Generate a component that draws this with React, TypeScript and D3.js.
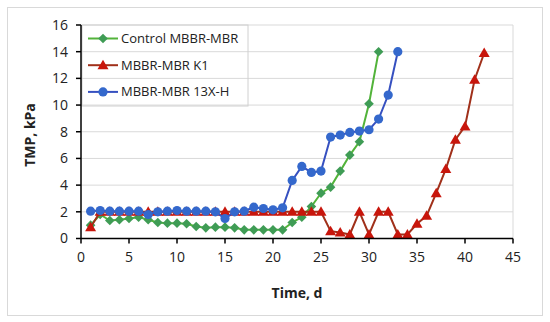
import * as d3 from 'd3'

// Control MBBR-MBR
const controlDays = [1, 2, 3, 4, 5, 6, 7, 8, 9, 10, 11, 12, 13, 14, 15, 16, 17, 18, 19, 20, 21, 22, 23, 24, 25, 26, 27, 28, 29, 30, 31]
const controlTmp = [1.0, 1.8, 1.35, 1.4, 1.5, 1.6, 1.4, 1.2, 1.15, 1.15, 1.1, 0.9, 0.8, 0.85, 0.85, 0.8, 0.65, 0.65, 0.65, 0.65, 0.65, 1.2, 1.6, 2.4, 3.4, 3.85, 5.05, 6.25, 7.25, 10.1, 14.0]

// MBBR-MBR K1
const k1Days = [1, 2, 3, 4, 5, 6, 7, 8, 9, 10, 11, 12, 13, 14, 15, 16, 17, 18, 19, 20, 21, 22, 23, 24, 25, 26, 27, 28, 29, 30, 31, 32, 33, 34, 35, 36, 37, 38, 39, 40, 41, 42]
const k1Tmp = [0.85, 2.0, 2.0, 2.0, 2.0, 2.0, 2.0, 2.0, 2.0, 2.0, 2.0, 2.0, 2.0, 2.0, 2.0, 2.0, 2.0, 2.0, 2.0, 2.0, 2.0, 2.0, 2.0, 2.0, 2.0, 0.55, 0.45, 0.3, 2.0, 0.3, 2.0, 2.0, 0.3, 0.3, 1.1, 1.7, 3.4, 5.2, 7.4, 8.4, 11.9, 13.9]

// MBBR-MBR 13X-H
const h13Days = [1, 2, 3, 4, 5, 6, 7, 8, 9, 10, 11, 12, 13, 14, 15, 16, 17, 18, 19, 20, 21, 22, 23, 24, 25, 26, 27, 28, 29, 30, 31, 32, 33]
const h13Tmp = [2.05, 2.1, 2.05, 2.05, 2.05, 2.05, 1.8, 2.0, 2.05, 2.1, 2.05, 2.05, 2.05, 2.0, 1.5, 2.0, 2.05, 2.35, 2.25, 2.15, 2.3, 4.35, 5.4, 4.95, 5.05, 7.6, 7.75, 7.95, 8.05, 8.15, 8.95, 10.75, 14.0]

const xTicks = [0, 5, 10, 15, 20, 25, 30, 35, 40, 45]
const yTicks = [0, 2, 4, 6, 8, 10, 12, 14, 16]

const FONT = '"Open Sans", "Noto Sans", sans-serif'

const series = [
  { name: 'Control MBBR-MBR', days: controlDays, tmp: controlTmp, line: '#52b33a', fill: '#3f9c55', marker: 'diamond' },
  { name: 'MBBR-MBR K1', days: k1Days, tmp: k1Tmp, line: '#a0301a', fill: '#c8160c', marker: 'triangle' },
  { name: 'MBBR-MBR 13X-H', days: h13Days, tmp: h13Tmp, line: '#3650c0', fill: '#3468cc', marker: 'circle' }
]

const Marker = ({ type, x, y, color }) => {
  if (type === 'diamond') {
    const r = 4.8
    return <path d={`M${x},${y - r}L${x + r},${y}L${x},${y + r}L${x - r},${y}Z`} fill={color} />
  }
  if (type === 'triangle') {
    return <path d={`M${x},${y - 5.5}L${x + 5.5},${y + 4}L${x - 5.5},${y + 4}Z`} fill={color} />
  }
  return <circle cx={x} cy={y} r={4.6} fill={color} />
}

const App = () => {
  const width = 550
  const height = 322
  const left = 81
  const right = 513
  const top = 25
  const bottom = 238.5

  const x = d3.scaleLinear().domain([0, 45]).range([left, right])
  const y = d3.scaleLinear().domain([0, 16]).range([bottom, top])

  const line = d3
    .line<number>()
    .x((d) => d[0])
    .y((d) => d[1])

  return (
    <div style={{ position: 'fixed', left: 0, top: 0 }}>
      <svg width={width} height={height} style={{ display: 'block' }}>
        <rect x={0} y={0} width={width} height={height} fill='white' />
        <rect x={7.5} y={7.5} width={535} height={308} fill='none' stroke='#d9d9d9' />

        {/* gridlines */}
        {yTicks.map((t) => (
          <line key={'g' + t} x1={left} x2={right} y1={y(t)} y2={y(t)} stroke='#d9d9d9' strokeWidth={1} />
        ))}
        <line x1={right} x2={right} y1={top} y2={bottom} stroke='#d9d9d9' />

        {/* legend box */}
        <rect x={82} y={25} width={166} height={81} fill='none' stroke='#d0d0d0' />
        {series.map((s, i) => {
          const cy = 38.5 + i * 26.7
          return (
            <g key={'lg' + i}>
              <line x1={88} x2={118} y1={cy} y2={cy} stroke={s.line} strokeWidth={2} />
              <Marker type={s.marker} x={103} y={cy} color={s.fill} />
              <text x={121} y={cy} dy='0.35em' fontFamily={FONT} fontSize={13} fill='#222'>
                {s.name}
              </text>
            </g>
          )
        })}

        {/* series */}
        {series.map((s, i) => {
          const pts = s.days.map((d, j) => [x(d), y(s.tmp[j])])
          return (
            <g key={'s' + i}>
              <path d={line(pts)} fill='none' stroke={s.line} strokeWidth={2} />
              {pts.map((p, j) => (
                <Marker key={j} type={s.marker} x={p[0]} y={p[1]} color={s.fill} />
              ))}
            </g>
          )
        })}

        {/* axes */}
        <line x1={left} x2={left} y1={top} y2={bottom} stroke='black' strokeWidth={1.5} />
        <line x1={left} x2={right} y1={bottom} y2={bottom} stroke='black' strokeWidth={1.5} />
        {yTicks.map((t) => (
          <g key={'yt' + t}>
            <line x1={left - 5} x2={left} y1={y(t)} y2={y(t)} stroke='black' strokeWidth={1.5} />
            <text x={left - 13} y={y(t)} dy='0.35em' textAnchor='end' fontFamily={FONT} fontSize={14} fill='#222'>
              {t}
            </text>
          </g>
        ))}
        {xTicks.map((t) => (
          <g key={'xt' + t}>
            <line x1={x(t)} x2={x(t)} y1={bottom} y2={bottom + 5} stroke='black' strokeWidth={1.5} />
            <text x={x(t)} y={bottom + 23} textAnchor='middle' fontFamily={FONT} fontSize={14} fill='#222'>
              {t}
            </text>
          </g>
        ))}

        <text x={(left + right) / 2} y={298} textAnchor='middle' fontFamily={FONT} fontSize={14} fontWeight='bold' fill='#222'>
          Time, d
        </text>
        <text
          transform='translate(35,135) rotate(-90)'
          textAnchor='middle'
          fontFamily={FONT}
          fontSize={14}
          fontWeight='bold'
          fill='#222'
        >
          TMP, kPa
        </text>
      </svg>
    </div>
  )
}

export default App
